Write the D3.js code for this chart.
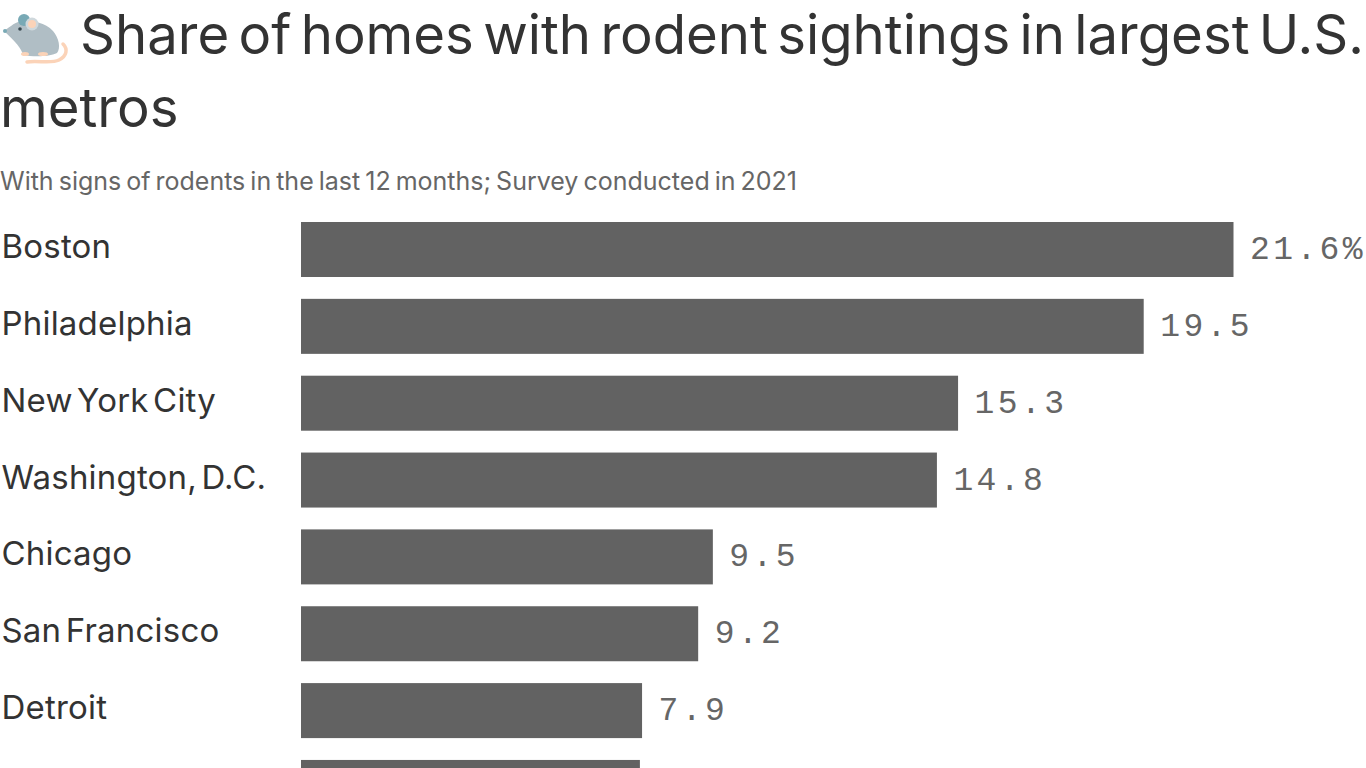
<!DOCTYPE html>
<html><head><meta charset="utf-8">
<script src="https://cdn.jsdelivr.net/npm/d3@7/dist/d3.min.js"></script>
<style>html,body{margin:0;padding:0;background:#fff;overflow:hidden;width:1366px;height:768px}svg{display:block}</style>
</head><body><div id="c"></div>
<script>
const categories = ["Boston","Philadelphia","New York City","Washington, D.C.","Chicago","San Francisco","Detroit",""];
const barValues = [21.6,19.52,15.22,14.73,9.54,9.2,7.9,7.85];
const valueLabels = ["21.6%","19.5","15.3","14.8","9.5","9.2","7.9",""];
const titleLines = ["Share of homes with rodent sightings in largest U.S.","metros"];
const subtitle = "With signs of rodents in the last 12 months; Survey conducted in 2021";

const sans = "Inter, 'Noto Sans', sans-serif";
const svg = d3.select("#c").append("svg").attr("width",1366).attr("height",768);

// mouse icon
const m = svg.append("g").attr("transform","translate(1,13)");
m.append("path").attr("d","M26 49 C36 47 50 51 58 47 C66 43 67 36 62 31").attr("fill","none").attr("stroke","#fbd3b8").attr("stroke-width",3.5).attr("stroke-linecap","round");
m.append("path").attr("d","M3 18 C10 13 16 7 24 8 C32 8 44 9 52 18 C58 25 60 35 56 40 C48 44 32 44 22 42 C21 36 14 28 3 18Z").attr("fill","#b0bec5");
m.append("circle").attr("cx",23).attr("cy",7).attr("r",6).attr("fill","#78a9b5");
m.append("circle").attr("cx",31).attr("cy",11).attr("r",6.5).attr("fill","#cfd8dc");
m.append("circle").attr("cx",31).attr("cy",11).attr("r",4).attr("fill","#fbd3b8");
m.append("circle").attr("cx",19).attr("cy",16).attr("r",1.8).attr("fill","#37474f");
m.append("circle").attr("cx",4).attr("cy",18).attr("r",2).attr("fill","#78a9b5");
m.append("ellipse").attr("cx",24).attr("cy",41).attr("rx",4).attr("ry",2).attr("fill","#fbd3b8");
m.append("ellipse").attr("cx",42).attr("cy",41).attr("rx",5).attr("ry",2).attr("fill","#fbd3b8");

const title = svg.append("g").attr("font-family",sans).attr("fill","#333").attr("font-size",54.5).attr("word-spacing",-6);
title.append("text").attr("x",80).attr("y",54).text(titleLines[0]);
title.append("text").attr("x",0).attr("y",127).text(titleLines[1]);
svg.append("text").attr("x",0).attr("y",190).attr("font-family",sans).attr("font-size",25).attr("word-spacing",-2).attr("fill","#666").text(subtitle);

const step = 76.85, barH = 55;
const x = d3.scaleLinear().domain([0,21.6]).range([301,1233.5]);
const rowIdx = d3.range(categories.length);
const y = d3.scaleBand().domain(rowIdx).range([222,222+step*rowIdx.length-(step-barH)]).paddingInner((step-barH)/step);

const rows = svg.append("g").selectAll("g").data(rowIdx).join("g");
rows.append("rect").attr("x",x(0)).attr("y",i=>y(i)).attr("width",i=>x(barValues[i])-x(0)).attr("height",y.bandwidth()).attr("fill","#626262");
rows.append("text").attr("x",1.5).attr("y",i=>y(i)+36).attr("font-family",sans).attr("font-size",33).attr("letter-spacing",0.2).attr("word-spacing",-5).attr("fill","#333").text(i=>categories[i]);
rows.append("text").attr("x",i=>x(barValues[i])+16.5).attr("y",i=>y(i)+37).attr("font-family","'Liberation Mono',monospace").attr("font-size",33).attr("letter-spacing",3.4).attr("fill","#666").text(i=>valueLabels[i]);
</script></body></html>
